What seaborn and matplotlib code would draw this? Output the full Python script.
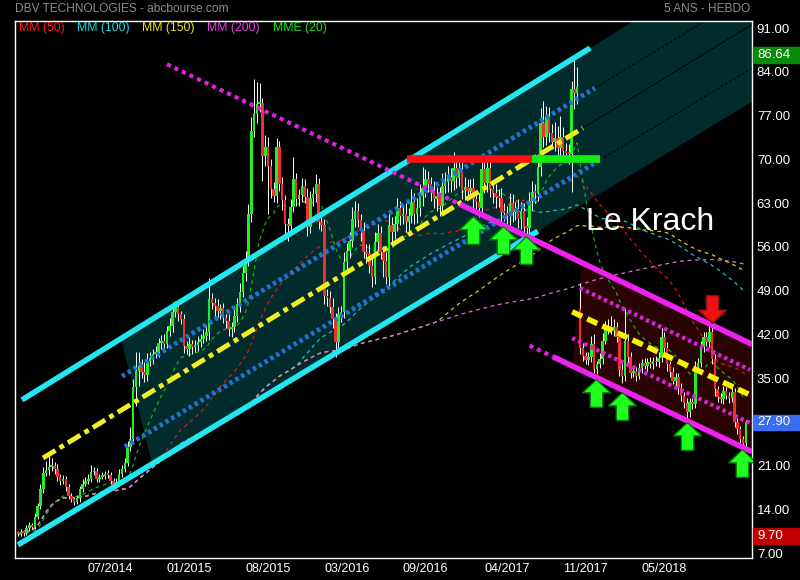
import numpy as np
import pandas as pd
import seaborn as sns
import matplotlib.pyplot as plt
from matplotlib import font_manager
from matplotlib.transforms import blended_transform_factory


# weekly closes, DBV Technologies, 5 years
closes = [
    10.0, 10.4, 10.2, 11.0, 11.5, 11.2, 12.8, 14.5, 17.2, 19.8,
    20.3, 20.8, 21.0, 20.5, 19.2, 18.6, 18.9, 17.6, 16.2, 15.6,
    15.2, 15.8, 17.2, 18.1, 18.6, 18.9, 19.9, 20.1, 18.9, 19.2,
    19.4, 19.6, 19.5, 18.6, 17.8, 18.4, 19.6, 20.5, 21.4, 24.0,
    25.2, 33.6, 36.2, 37.0, 36.0, 35.5, 37.8, 38.2, 38.8, 39.2,
    40.6, 41.0, 40.4, 42.5, 43.4, 45.6, 46.4, 45.2, 44.5, 40.2,
    39.6, 40.5, 40.0, 40.3, 40.8, 41.2, 41.8, 42.3, 47.6, 47.0,
    46.6, 45.8, 46.2, 44.6, 44.2, 42.8, 43.2, 45.0, 46.8, 48.8,
    51.8, 53.9, 61.2, 74.5, 77.2, 78.8, 79.0, 70.6, 71.9, 69.0,
    65.2, 64.2, 72.0, 66.0, 63.5, 59.6, 59.4, 62.4, 66.8, 63.6,
    64.3, 65.8, 64.0, 59.2, 63.8, 64.5, 66.0, 60.0, 59.5, 48.2,
    47.8, 46.4, 44.4, 40.8, 45.2, 45.6, 53.5, 55.4, 57.0, 60.5,
    61.8, 60.3, 58.6, 55.2, 54.8, 53.0, 51.2, 56.8, 58.2, 55.2,
    53.8, 51.2, 59.5, 58.4, 59.6, 62.2, 60.9, 61.2, 59.9, 61.0,
    63.2, 61.2, 62.2, 64.2, 65.4, 66.8, 66.0, 65.0, 63.6, 64.2,
    62.6, 65.8, 66.4, 67.2, 66.5, 68.6, 67.0, 68.4, 65.1, 65.6,
    65.0, 65.4, 63.6, 63.2, 62.2, 68.4, 66.2, 68.6, 65.2, 64.6,
    64.0, 63.8, 61.6, 61.4, 60.9, 63.0, 61.5, 62.0, 60.4, 61.8,
    59.2, 59.0, 63.3, 64.8, 64.6, 68.8, 75.8, 73.5, 76.8, 74.2,
    72.8, 73.4, 71.8, 73.6, 71.4, 71.0, 70.8, 81.2, 80.6, 81.6,
    39.8, 38.6, 37.9, 38.3, 40.5, 36.4, 37.2, 38.0, 41.0, 42.8,
    43.4, 42.6, 43.2, 41.5, 36.3, 35.4, 41.0, 38.4, 35.8, 36.2,
    35.4, 36.6, 37.4, 37.0, 37.6, 37.2, 37.8, 37.5, 38.2, 41.6,
    39.8, 37.2, 36.0, 34.6, 35.2, 33.4, 32.2, 31.0, 29.6, 31.2,
    30.8, 36.8, 37.4, 40.0, 41.6, 40.8, 42.4, 38.0, 33.2, 32.0,
    31.6, 33.0, 32.2, 31.8, 32.8, 28.0, 26.8, 25.2, 24.6, 27.9,
]

# wick lengths above / below the candle body
up_wicks = [
    0.3, 0.4, 0.3, 0.5, 0.4, 0.3, 0.6, 0.5, 0.8, 1.0,
    1.5, 2.0, 1.2, 0.6, 0.8, 0.5, 0.6, 0.5, 0.4, 0.4,
    0.4, 0.5, 0.5, 0.8, 0.6, 0.8, 1.2, 0.6, 0.5, 0.5,
    0.6, 0.5, 0.7, 0.5, 0.4, 0.6, 0.8, 0.6, 0.8, 1.0,
    2.0, 1.2, 3.0, 2.2, 1.0, 1.5, 1.2, 1.0, 0.8, 1.0,
    0.8, 0.9, 1.0, 0.8, 1.2, 1.6, 1.0, 0.8, 0.6, 0.8,
    0.8, 1.0, 0.6, 0.8, 1.0, 0.8, 1.0, 1.2, 3.4, 1.0,
    0.8, 1.0, 0.6, 0.8, 0.6, 1.0, 0.8, 1.2, 1.0, 1.4,
    1.2, 1.4, 1.6, 2.2, 5.6, 3.6, 3.2, 0.8, 2.0, 1.6,
    1.0, 1.2, 1.4, 1.0, 1.2, 0.8, 1.0, 1.2, 3.6, 1.0,
    1.0, 1.2, 1.0, 1.4, 1.2, 1.0, 1.6, 1.0, 0.8, 1.0,
    1.0, 1.2, 1.4, 1.0, 1.2, 1.0, 1.6, 1.2, 1.4, 1.8,
    1.6, 1.2, 1.0, 1.4, 1.2, 1.6, 1.2, 1.6, 1.4, 1.2,
    1.0, 1.4, 1.8, 1.2, 1.4, 1.6, 1.2, 1.4, 1.8, 1.2,
    2.0, 1.4, 1.6, 1.8, 3.4, 1.6, 1.4, 1.2, 1.6, 1.4,
    1.4, 2.0, 1.6, 1.8, 1.4, 2.6, 1.6, 1.4, 1.2, 1.6,
    1.2, 1.4, 1.6, 1.2, 1.4, 2.2, 1.6, 1.8, 1.4, 1.2,
    1.4, 1.2, 1.6, 1.4, 1.2, 1.6, 1.4, 1.2, 1.6, 1.4,
    1.2, 1.6, 1.4, 1.8, 1.2, 2.0, 2.4, 3.6, 1.8, 1.6,
    1.4, 2.6, 2.0, 3.4, 1.6, 1.2, 1.4, 1.4, 5.44, 3.2,
    4.2, 0.8, 0.6, 0.8, 1.2, 1.6, 0.6, 1.0, 1.2, 1.4,
    1.0, 1.6, 1.2, 0.8, 1.0, 1.2, 5.0, 1.0, 0.8, 0.6,
    0.6, 0.8, 0.6, 0.8, 0.6, 0.8, 0.6, 0.8, 1.0, 1.4,
    0.8, 1.0, 0.6, 0.8, 0.6, 0.6, 0.8, 0.6, 0.8, 0.6,
    0.6, 1.0, 0.8, 1.0, 0.8, 0.8, 1.4, 1.2, 0.8, 0.6,
    0.6, 0.8, 0.6, 0.6, 0.8, 0.6, 0.6, 0.5, 0.6, 0.4,
]
down_wicks = [
    0.3, 0.2, 0.4, 0.3, 0.5, 0.4, 0.3, 0.4, 0.5, 0.6,
    0.5, 0.8, 0.6, 0.8, 0.6, 0.7, 0.5, 0.6, 0.5, 0.4,
    0.5, 0.4, 0.6, 0.5, 0.4, 0.6, 0.5, 0.4, 0.6, 0.5,
    0.4, 0.6, 0.5, 0.6, 0.5, 0.4, 0.6, 0.5, 0.6, 0.4,
    0.6, 0.8, 3.0, 2.4, 1.0, 1.2, 1.0, 0.8, 1.0, 0.6,
    0.8, 1.0, 0.8, 0.6, 0.8, 1.0, 0.8, 1.0, 0.8, 1.2,
    0.8, 1.0, 1.2, 0.8, 1.0, 0.8, 0.6, 0.8, 1.2, 1.0,
    2.0, 1.0, 1.4, 0.8, 1.2, 1.0, 1.2, 0.8, 1.0, 1.2,
    0.8, 1.2, 1.0, 1.2, 1.0, 1.4, 1.2, 4.0, 1.6, 7.8,
    1.4, 1.0, 1.2, 1.0, 1.6, 2.0, 2.4, 1.0, 0.8, 1.0,
    1.0, 1.2, 1.0, 1.4, 1.0, 1.2, 1.4, 1.2, 1.0, 1.4,
    1.2, 1.0, 1.4, 2.4, 1.0, 1.2, 1.0, 1.4, 1.2, 1.0,
    1.4, 1.2, 1.6, 1.0, 1.4, 1.2, 1.6, 1.2, 1.4, 1.2,
    2.6, 1.2, 1.4, 1.6, 1.2, 1.0, 1.4, 1.2, 1.6, 1.4,
    1.2, 1.6, 1.4, 1.2, 1.6, 1.4, 1.2, 1.6, 1.4, 1.8,
    1.6, 1.4, 1.2, 1.6, 1.8, 1.4, 1.6, 1.2, 1.4, 1.6,
    1.4, 1.2, 1.6, 1.8, 1.4, 1.2, 1.6, 1.4, 1.2, 1.6,
    1.8, 1.4, 1.6, 1.2, 1.8, 1.4, 1.6, 1.2, 1.4, 1.6,
    1.8, 1.6, 1.2, 1.4, 1.6, 1.2, 1.4, 1.6, 1.2, 1.4,
    1.2, 1.4, 1.6, 1.2, 1.4, 1.2, 1.6, 6.0, 2.6, 1.8,
    1.0, 0.8, 0.6, 0.8, 0.8, 0.6, 0.8, 0.6, 0.8, 0.6,
    0.8, 0.6, 0.8, 0.8, 1.0, 1.2, 0.8, 1.0, 0.8, 0.6,
    0.8, 0.6, 0.8, 0.6, 0.8, 0.6, 0.8, 0.6, 0.8, 0.6,
    0.8, 1.0, 0.8, 0.6, 0.8, 1.0, 0.8, 0.8, 1.2, 0.8,
    0.8, 0.6, 0.8, 0.6, 0.8, 0.6, 0.8, 0.8, 1.0, 0.8,
    0.6, 0.8, 0.6, 0.8, 0.6, 0.8, 0.8, 0.8, 0.6, 0.4,
]
first_open = 10.2
crash_bar = 200
crash_open = 46.0

tick_pos = [33, 61, 89, 117, 145, 174, 202, 230]
tick_labels = ["07/2014", "01/2015", "08/2015", "03/2016",
               "09/2016", "04/2017", "11/2017", "05/2018"]
price_ticks = [7, 14, 21, 28, 35, 42, 49, 56, 63, 70, 77, 84, 91]

# hand drawn studies, end points as (bar, price)
cyan_top = [(1.4, 31.5), (203.6, 87.8)]
cyan_bottom = [(0.0, 8.3), (185.0, 58.5)]
blue_top = [(37.0, 35.3), (205.3, 81.4)]
blue_bottom = [(38.0, 24.0), (207.1, 69.9)]
yellow_up = [(8.9, 22.2), (201.0, 75.0)]
magenta_top = [(53.0, 85.2), (157.3, 62.8), (261.2, 40.4)]
magenta_bottom = [(182.0, 40.2), (190.4, 38.4), (261.2, 23.2)]
pink_inner_top = [(200.0, 49.4), (260.5, 36.3)]
pink_inner_bottom = [(197.2, 41.4), (260.5, 27.8)]
yellow_down = [(197.2, 45.6), (260.5, 32.3)]
resistance_red = [138.4, 182.9, 70.0]
resistance_green = [182.9, 207.1, 70.0]

up_arrows_x = [162.0, 172.6, 180.8, 205.7, 215.0, 238.0, 257.6]
up_arrows_y = [58.7, 57.1, 55.5, 32.6, 30.5, 25.7, 21.4]
down_arrows_x = [247.0]
down_arrows_y = [46.0]

legend_names = ["MM (50)", "MM (100)", "MM (150)", "MM (200)", "MME (20)"]
legend_colors = ["#ff1a1a", "#1ad6e0", "#e6e61a", "#e040e0", "#1ae01a"]


def extend(pts, x):
    (x0, y0), (x1, y1) = pts[0], pts[-1]
    return y0 + (y1 - y0) * (np.asarray(x, dtype=float) - x0) / (x1 - x0)


def main():
    sns.set_theme(style="dark", rc={"axes.facecolor": "black",
                                    "figure.facecolor": "black",
                                    "axes.edgecolor": "white",
                                    "axes.grid": False})
    names = {f.name for f in font_manager.fontManager.ttflist}
    narrow = "Liberation Sans Narrow" if "Liberation Sans Narrow" in names else "Liberation Sans"
    plt.rcParams["font.family"] = ["Liberation Sans", "DejaVu Sans"]

    n = len(closes)
    bars = np.arange(n)
    opens = [first_open] + closes[:-1]
    opens[crash_bar] = crash_open
    highs = [max(o, c) + w for o, c, w in zip(opens, closes, up_wicks)]
    lows = [min(o, c) - w for o, c, w in zip(opens, closes, down_wicks)]

    df = pd.DataFrame({"bar": bars, "close": closes})
    s = df["close"]
    df["mm50"] = s.rolling(50, min_periods=1).mean()
    df["mm100"] = s.rolling(100, min_periods=1).mean()
    df["mm150"] = s.rolling(150, min_periods=1).mean()
    df["mm200"] = s.rolling(200, min_periods=1).mean()
    df["mme20"] = s.ewm(span=20, adjust=False).mean()

    fig = plt.figure(figsize=(8, 5.8), dpi=100)
    ax = fig.add_axes([15 / 800, 1 - 557.7 / 580, 737 / 800, 537 / 580])
    ax.set_xlim(-1.07, 261.2)
    ax.set_ylim(6.25, 92.17)

    # shaded channels
    right = 262.0
    ax.fill([36.7, 47.7, right, right],
            [extend(cyan_top, 36.7), extend(cyan_bottom, 47.7),
             extend(cyan_bottom, right), extend(cyan_top, right)],
            color="#022b2b", lw=0, zorder=1)
    ax.fill([200.7, 197.2, right, right],
            [extend(magenta_top, 200.7), extend(magenta_bottom, 197.2),
             extend(magenta_bottom, right), extend(magenta_top, right)],
            color="#2a0303", lw=0, zorder=1)

    # projected lines inside the teal area
    for pts, ls in [(blue_top, (0, (3, 2))), (blue_bottom, (0, (3, 2))),
                    (yellow_up, "-")]:
        xs = [pts[-1][0], right]
        ax.plot(xs, extend(pts, xs), color="black", lw=0.7, ls=ls, zorder=1.5)

    # moving averages
    ma_cols = [("mm50", "#e01515"), ("mm100", "#15c0d0"), ("mm150", "#d0d015"),
               ("mm200", "#e070e0"), ("mme20", "#15b015")]
    for col, colr in ma_cols:
        sns.lineplot(data=df, x="bar", y=col, ax=ax, color=colr, lw=0.9,
                     linestyle=(0, (3, 3)), zorder=2)

    # candles
    up = [c >= o for o, c in zip(opens, closes)]
    bottoms = [min(o, c) for o, c in zip(opens, closes)]
    heights = [max(abs(c - o), 0.3) for o, c in zip(opens, closes)]
    ax.vlines(bars, lows, highs, color="white", lw=0.7, zorder=3)
    ax.bar(bars, heights, bottom=bottoms, width=0.9, lw=0, zorder=4,
           color=["#22ee22" if u else "#ee3030" for u in up])

    # trend lines
    def seg(pts, **kw):
        xs = [p[0] for p in pts]
        ax.plot(xs, extend(pts, xs), solid_capstyle="butt", **kw)

    seg(cyan_top, color="#22e6f0", lw=4, zorder=5)
    seg(cyan_bottom, color="#22e6f0", lw=4, zorder=5)
    seg(blue_top, color="#1f74d4", lw=3.5, ls=(0, (0.7, 0.7)), zorder=5)
    seg(blue_bottom, color="#1f74d4", lw=3.5, ls=(0, (0.7, 0.7)), zorder=5)
    seg(yellow_up, color="#f0f020", lw=3.5, ls=(0, (3, 1, 1, 1)), zorder=5)
    seg(magenta_top[:2], color="#e020e0", lw=3, ls=(0, (1, 1)), zorder=5)
    seg(magenta_top[1:], color="#ee22ee", lw=4, zorder=5)
    seg(magenta_bottom[:2], color="#e020e0", lw=3, ls=(0, (1, 1)), zorder=5)
    seg(magenta_bottom[1:], color="#ee22ee", lw=4, zorder=5)
    seg(pink_inner_top, color="#e020e0", lw=3, ls=(0, (0.8, 0.8)), zorder=5)
    seg(pink_inner_bottom, color="#e020e0", lw=3, ls=(0, (0.8, 0.8)), zorder=5)
    seg(yellow_down, color="#f5f500", lw=4, ls=(0, (2, 1)), zorder=5)

    ax.hlines(resistance_red[2], resistance_red[0], resistance_red[1],
              color="#ff1010", lw=5.5, zorder=6)
    ax.hlines(resistance_green[2], resistance_green[0], resistance_green[1],
              color="#10ee10", lw=5.5, zorder=6)

    # arrows
    arrow = [(0, 1), (1, 0.05), (0.45, 0.05), (0.45, -1), (-0.45, -1),
             (-0.45, 0.05), (-1, 0.05), (0, 1)]
    arrow_down = [(x, -y) for x, y in arrow]
    ax.scatter(up_arrows_x, up_arrows_y, marker=arrow, s=400, c="#1eff1e",
               edgecolors="#0b7a0b", linewidths=1, zorder=8)
    ax.scatter(down_arrows_x, down_arrows_y, marker=arrow_down, s=400,
               c="#ee1111", edgecolors="#8a0e0e", linewidths=1, zorder=8)

    ax.text(225, 60.0, "Le Krach", color="white", fontsize=23,
            ha="center", va="center", zorder=9)

    # axes styling
    ax.yaxis.tick_right()
    ax.set_yticks(price_ticks)
    ax.set_yticklabels([f"{v:.2f}" for v in price_ticks])
    ax.set_xticks(tick_pos)
    ax.set_xticklabels(tick_labels, fontfamily=narrow,
                       fontsize=10 if narrow != "Liberation Sans" else 9)
    ax.tick_params(axis="y", colors="white", length=0, pad=3.5, labelsize=9.5)
    ax.tick_params(axis="x", colors="white", length=0, pad=4)
    ax.set_xlabel("")
    ax.set_ylabel("")
    for sp in ax.spines.values():
        sp.set_color("white")
        sp.set_linewidth(1)
    ax.grid(False)

    # price tags on the right
    tr = blended_transform_factory(ax.transAxes, ax.transData)
    tags = [(max(highs), "#0a8a0a"), (closes[-1], "#3a6cf0"), (min(lows), "#c00000")]
    for val, colr in tags:
        ax.add_patch(plt.Rectangle((1.0015, val - 1.25), 0.07, 2.5, transform=tr,
                                   color=colr, clip_on=False, zorder=10))
        ax.text(1.0068, val, f"{val:.2f}", transform=tr, color="white",
                fontsize=9.5, va="center", ha="left", zorder=11, clip_on=False)

    # header
    fig.text(15 / 800, 1 - 9 / 580, "DBV TECHNOLOGIES - abcbourse.com",
             color="#8c8c8c", fontsize=8.6, va="center", ha="left")
    fig.text(750 / 800, 1 - 9 / 580, "5 ANS - HEBDO",
             color="#8c8c8c", fontsize=8.6, va="center", ha="right")
    legend_x = [19, 77, 142, 207, 273]
    for lx, name, colr in zip(legend_x, legend_names, legend_colors):
        fig.text(lx / 800, 1 - 28 / 580, name, color=colr, fontsize=8.8,
                 va="center", ha="left")

    fig.savefig("out.png", dpi=100, facecolor="black")


if __name__ == "__main__":
    main()
